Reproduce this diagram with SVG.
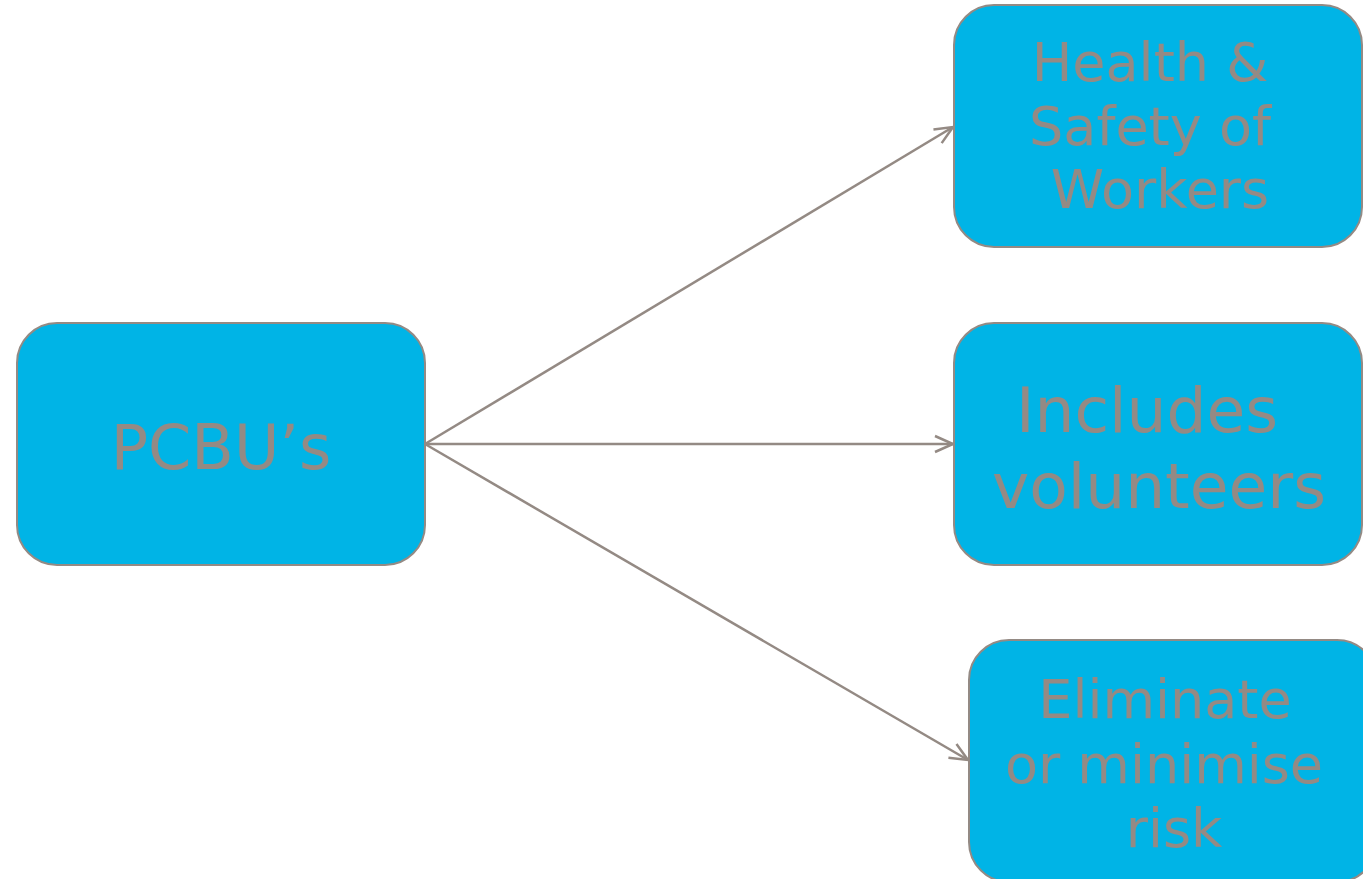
<svg xmlns="http://www.w3.org/2000/svg" width="1363" height="879" viewBox="0 0 1363 879">
<style>
.box{fill:#00B4E6;stroke:#948A84;stroke-width:2}
.t{font-family:"DejaVu Sans",Verdana,sans-serif;fill:#948A84;text-anchor:middle}
.c{stroke:#948A84;stroke-width:2.5;fill:none}
</style>
<defs>
<marker id="arr" markerUnits="userSpaceOnUse" markerWidth="30" markerHeight="30" viewBox="-20 -15 30 30" refX="0" refY="0" orient="auto">
<path d="M-18,-8 L0,0 L-18,8" fill="none" stroke="#948A84" stroke-width="2.5"/>
</marker>
</defs>
<g id="connectors">
<line class="c" x1="425" y1="444" x2="953" y2="127" marker-end="url(#arr)"/>
<line class="c" x1="425" y1="444" x2="953" y2="444" marker-end="url(#arr)"/>
<line class="c" x1="425" y1="444" x2="968" y2="760" marker-end="url(#arr)"/>
</g>
<g id="pcbu">
<rect class="box" x="17" y="323" width="408" height="242" rx="40"/>
<text class="t" x="221" y="469" font-size="62">PCBU’s</text>
</g>
<g id="health">
<rect class="box" x="954" y="5" width="408" height="242" rx="40"/>
<text class="t" font-size="54"><tspan x="1150" y="81">Health &amp;</tspan><tspan x="1150" y="145">Safety of</tspan><tspan x="1160" y="208">Workers</tspan></text>
</g>
<g id="volunteers">
<rect class="box" x="954" y="323" width="408" height="242" rx="40"/>
<text class="t" font-size="63"><tspan x="1147" y="432">Includes</tspan><tspan x="1159" y="508">volunteers</tspan></text>
</g>
<g id="eliminate">
<rect class="box" x="969" y="640" width="408" height="242" rx="40"/>
<text class="t" font-size="54"><tspan x="1165" y="718">Eliminate</tspan><tspan x="1164" y="783">or minimise</tspan><tspan x="1174" y="847">risk</tspan></text>
</g>
</svg>
